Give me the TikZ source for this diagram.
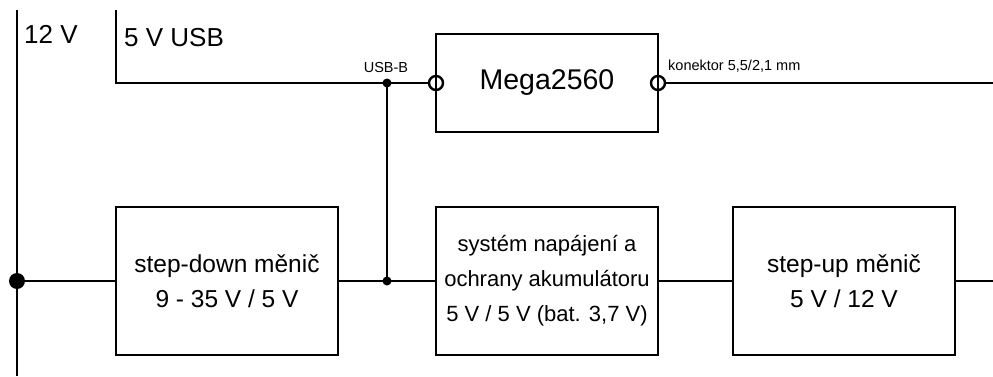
\documentclass[tikz,border=0pt]{standalone}
\usepackage{fontspec}
\setmainfont{Liberation Sans}
\usetikzlibrary{positioning}

\begin{document}
\begin{tikzpicture}[x=1pt, y=1pt, line width=2.4pt,
    blok/.style={draw, rectangle, minimum width=222pt, minimum height=148pt,
      inner sep=0pt, outer sep=0pt, align=center,
      font=\fontsize{24.5}{35}\selectfont},
    uzel/.style={circle, fill, inner sep=0pt, minimum size=9pt},
    konektor/.style={circle, draw, inner sep=0pt, minimum size=14pt},
    popis/.style={font=\fontsize{26}{30}\selectfont, anchor=base west, inner sep=0pt},
    malypopis/.style={font=\fontsize{14.5}{16}\selectfont, inner sep=0pt}]
  \useasboundingbox (0,0) rectangle (993,376);

  % bloky
  \draw node[blok] (stepdown) at (227,95) {step-down měnič\\9 - 35 V / 5 V};
  \draw node[blok, font=\fontsize{22}{35}\selectfont] (ochrana) at (547,95)
    {systém napájení a\\ochrany akumulátoru\\5 V / 5 V (bat. 3,7 V)};
  \draw node[blok] (stepup) at (844,95) {step-up měnič\\5 V / 12 V};
  \draw node[blok, minimum height=98pt,
    font=\fontsize{28.5}{32}\selectfont] (mega) at (547,293) {Mega2560};

  % konektory a uzly
  \node[konektor] (kin) at (mega.west) {};
  \node[konektor] (kout) at (mega.east) {};
  \node[uzel, minimum size=16pt] (j12) at (17,95) {};
  \node[uzel] (jusb) at (387,293) {};
  \node[uzel] (j5) at (387,95) {};

  \coordinate (top12) at (17,366);
  \coordinate (bot12) at (17,0);
  \coordinate (topusb) at (116,366);
  \coordinate (ven1) at (993,293);
  \coordinate (ven2) at (993,95);

  % popisky
  \node[popis] (l12) at (23,333) {12 V};
  \node[popis] (lusb) at (123,330) {5 V USB};
  \node[malypopis, anchor=base] (lusbb) at (386,304) {USB-B};
  \node[malypopis, anchor=base west] (lkon) at (667,306) {konektor 5,5/2,1 mm};

  % vedeni
  \draw (top12) -- (bot12);
  \draw (topusb) |- (jusb.center) -- (kin);
  \draw (jusb.center) -- (j5.center);
  \draw (kout) -- (ven1);
  \draw (j12.center) -- (stepdown);
  \draw (stepdown) -- (j5.center) -- (ochrana);
  \draw (ochrana) -- (stepup);
  \draw (stepup) -- (ven2);
\end{tikzpicture}
\end{document}
